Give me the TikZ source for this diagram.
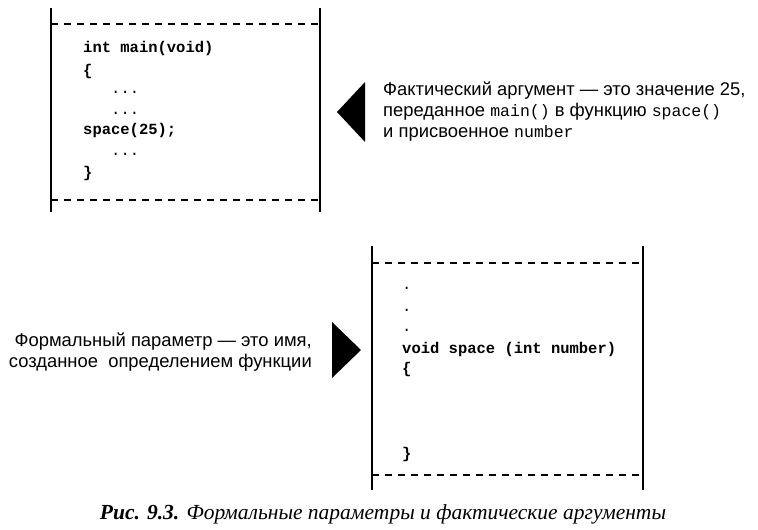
\documentclass[tikz,border=0pt]{standalone}
\usepackage{fontspec}
\setmainfont{Liberation Sans}
\newfontfamily\codefont{Liberation Mono}
\newfontfamily\capfont{Liberation Serif}
\begin{document}
\begin{tikzpicture}[x=1pt,y=-1pt,
  vline/.style={line width=1.4pt},
  dline/.style={line width=1.1pt,dash pattern=on 7pt off 6pt},
  code/.style={anchor=base west,inner sep=0pt,font=\codefont\bfseries\fontsize{15.5}{18}\selectfont},
  dots/.style={anchor=base west,inner sep=0pt,font=\codefont\fontsize{15.5}{18}\selectfont},
  note/.style={inner sep=0pt,font=\fontsize{18.4}{21}\selectfont},
  pointer/.style={fill=black}]
\newcommand{\tm}[1]{{\codefont\fontsize{16.5}{18}\selectfont #1}}
\useasboundingbox (0,0) rectangle (758,530);
% top box
\coordinate (tl1) at (51,8);   \coordinate (tl2) at (51,212);
\coordinate (tr1) at (320,8);  \coordinate (tr2) at (320,212);
\draw[vline] (tl1) -- (tl2);
\draw[vline] (tr1) -- (tr2);
\draw[dline] (51,24) -- (320,24);
\draw[dline] (51,200) -- (320,200);
\node[code] (c1) at (83,52)  {int main(void)};
\node[code] (c2) at (83,75)  {\{};
\node[dots] (c3) at (111,93) {...};
\node[dots] (c4) at (111,114) {...};
\node[code] (c5) at (83,134) {space(25);};
\node[dots] (c6) at (111,155) {...};
\node[code] (c7) at (83,177) {\}};
% top pointer and note
\fill[pointer] (337,112) -- (365,82) -- (365,142) -- cycle;
\node[note,anchor=base west] (n1a) at (383,95) {Фактический аргумент — это значение 25,};
\node[note,anchor=base west] (n1b) at (383,116) {переданное \tm{main()} в функцию \tm{space()}};
\node[note,anchor=base west] (n1c) at (383,137) {и присвоенное \tm{number}};
% bottom box
\draw[vline] (372,246) -- (372,490);
\draw[vline] (643,246) -- (643,490);
\draw[dline] (372,263) -- (643,263);
\draw[dline] (372,475) -- (643,475);
\node[dots] (d1) at (402,289) {.};
\node[dots] (d2) at (402,311) {.};
\node[dots] (d3) at (402,331) {.};
\node[code] (d4) at (402,353) {void space (int number)};
\node[code] (d5) at (402,373) {\{};
\node[code] (d6) at (402,458) {\}};
% bottom pointer and note
\fill[pointer] (361,350) -- (332,322) -- (332,378) -- cycle;
\node[note,anchor=base east] (n2a) at (312,346) {Формальный параметр — это имя,};
\node[note,anchor=base east] (n2b) at (312,367) {созданное\ \ определением функции};
% caption
\node[inner sep=0pt,anchor=base] (cap) at (383,519) {\capfont\fontsize{21.5}{24}\selectfont\textbf{\textit{Рис. 9.3.}} \textit{Формальные параметры и фактические аргументы}};
\end{tikzpicture}
\end{document}
